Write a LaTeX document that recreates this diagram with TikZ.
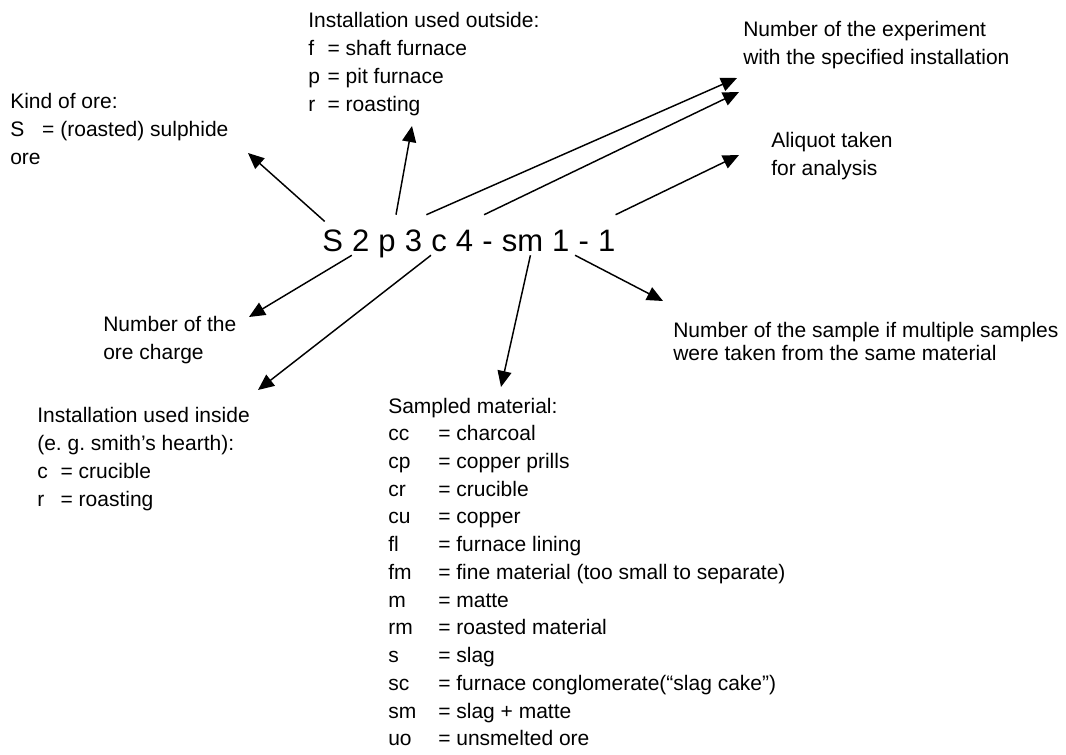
\documentclass[tikz,border=0pt]{standalone}
\usepackage{fontspec}
\setmainfont{Liberation Sans}
\usepackage{tikz}
\usetikzlibrary{arrows.meta}
\newcommand{\abbrkey}[2]{\makebox[#1][l]{#2}= }
\frenchspacing

\begin{document}
\begin{tikzpicture}[x=0.75pt, y=-0.75pt,
    note/.style={anchor=base west, inner sep=0pt, font=\fontsize{15.75}{21}\selectfont},
    code/.style={anchor=base west, inner sep=0pt, text height=27.75pt, text depth=2.25pt, font=\fontsize{23.25}{28}\selectfont},
    arr/.style={-{Triangle[length=12pt,width=10.5pt]}, line width=1.1pt}]
    \useasboundingbox (0,0) rectangle (1066,755);
    % sample code, one node per part
    \node[code] (t1) at (322,252) {S};
    \foreach \tok [count=\i from 2] in {2,p,3,c,4,-,sm,1,-,1} {
        \pgfmathtruncatemacro{\prev}{\i-1}
        \node[code] (t\i) at ([xshift=6.46pt]t\prev.base east) {\tok};
    }
    % explanations
    \node[note] (kind) at (10,109) {\begin{tabular}[t]{@{}l@{}}Kind of ore:\\ \abbrkey{24pt}{S}(roasted) sulphide\\ ore\end{tabular}};
    \node[note] (outside) at (308,28) {\begin{tabular}[t]{@{}l@{}}Installation used outside:\\ \abbrkey{14.5pt}{f}shaft furnace\\ \abbrkey{14.5pt}{p}pit furnace\\ \abbrkey{14.5pt}{r}roasting\end{tabular}};
    \node[note] (exp) at (743,37) {\begin{tabular}[t]{@{}l@{}}Number of the experiment\\ with the specified installation\end{tabular}};
    \node[note] (aliquot) at (771,148) {\begin{tabular}[t]{@{}l@{}}Aliquot taken\\ for analysis\end{tabular}};
    \node[note] (charge) at (103,331) {\begin{tabular}[t]{@{}l@{}}Number of the\\ ore charge\end{tabular}};
    \node[note, font=\fontsize{15.75}{17.25}\selectfont] (sample) at (673,337) {\begin{tabular}[t]{@{}l@{}}Number of the sample if multiple samples\\ were taken from the same material\end{tabular}};
    \node[note] (inside) at (37,422) {\begin{tabular}[t]{@{}l@{}}Installation used inside\\ (e. g. smith’s hearth):\\ \abbrkey{17.5pt}{c}crucible\\ \abbrkey{17.5pt}{r}roasting\end{tabular}};
    \node[note, font=\fontsize{15.75}{20.8}\selectfont] (material) at (388,413) {\begin{tabular}[t]{@{}l@{}}Sampled material:\\
        \abbrkey{37.5pt}{cc}charcoal\\
        \abbrkey{37.5pt}{cp}copper prills\\
        \abbrkey{37.5pt}{cr}crucible\\
        \abbrkey{37.5pt}{cu}copper\\
        \abbrkey{37.5pt}{fl}furnace lining\\
        \abbrkey{37.5pt}{fm}fine material (too small to separate)\\
        \abbrkey{37.5pt}{m}matte\\
        \abbrkey{37.5pt}{rm}roasted material\\
        \abbrkey{37.5pt}{s}slag\\
        \abbrkey{37.5pt}{sc}furnace conglomerate(“slag cake”)\\
        \abbrkey{37.5pt}{sm}slag + matte\\
        \abbrkey{37.5pt}{uo}unsmelted ore\end{tabular}};
    % arrow tips
    \coordinate (kindTip) at (248,153);
    \coordinate (outTip) at (412,126);
    \coordinate (expTipA) at (737,78);
    \coordinate (expTipB) at (739,92);
    \coordinate (aliqTip) at (739,155);
    \coordinate (chargeTip) at (249,317);
    \coordinate (insideTip) at (258,390);
    \coordinate (matTip) at (501,387);
    \coordinate (sampleTip) at (663,301);
    % connectors
    \draw[arr] ([shift={(2pt,-5pt)}]t1.north west) -- (kindTip);
    \draw[arr] (t3.north east) -- (outTip);
    \draw[arr] ([xshift=3pt]t4.north east) -- (expTipA);
    \draw[arr] ([xshift=8pt]t6.north east) -- (expTipB);
    \draw[arr] (t11.north east) -- (aliqTip);
    \draw[arr] (t2.south west) -- (chargeTip);
    \draw[arr] (t5.south west) -- (insideTip);
    \draw[arr] ([xshift=6pt]t8.south) -- (matTip);
    \draw[arr] ([xshift=4pt]t9.south east) -- (sampleTip);
\end{tikzpicture}
\end{document}
